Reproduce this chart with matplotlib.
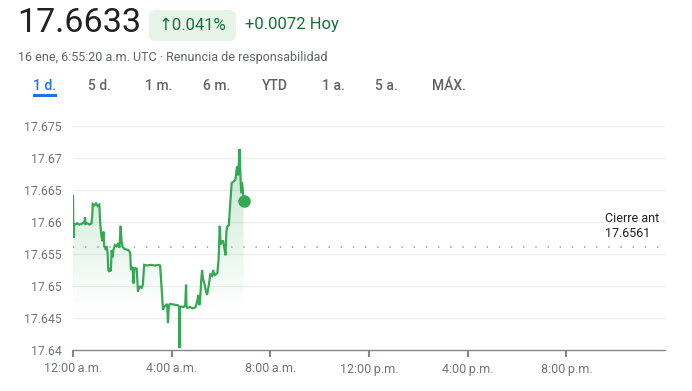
import numpy as np
import matplotlib
matplotlib.use("Agg")
import matplotlib.pyplot as plt
from matplotlib.colors import LinearSegmentedColormap
from matplotlib.patches import FancyBboxPatch

plt.rcParams['font.family'] = ['Roboto', 'DejaVu Sans']

# quote header
price = "17.6633"
pct_change = "\u21910.041%"
abs_change = "+0.0072 Hoy"
subtitle = "16 ene, 6:55:20 a.m. UTC \u00b7 Renuncia de responsabilidad"
ranges = ["1 d.", "5 d.", "1 m.", "6 m.", "YTD", "1 a.", "5 a.", "M\u00c1X."]
prev_close = 17.6561

# intraday series (minutes after midnight, price)
minutes = [0, 1, 2, 5, 10, 15, 20, 25, 28, 29, 31, 35, 40, 45, 47, 48, 52, 56, 60, 64,
           66, 68, 70, 72, 74, 76, 78, 80, 82, 84, 86, 88, 90, 92, 94, 97, 98, 102, 106, 110,
           113, 116, 118, 121, 125, 130, 135, 139, 141, 143, 145, 147, 149, 151, 155, 158, 160, 163, 167, 170,
           173, 180, 190, 200, 208, 212, 215, 219, 222, 226, 229, 231, 233, 236, 245, 255, 258, 259, 260, 263,
           269, 273, 275, 276, 278, 285, 292, 298, 302, 305, 307, 309, 312, 314, 316, 320, 324, 326, 330, 334,
           338, 341, 344, 347, 351, 354, 357, 359, 361, 365, 368, 371, 373, 375, 379, 383, 386, 390, 395, 399,
           402, 405, 407, 409, 411, 413, 415]
prices = [17.6641, 17.6575, 17.6597, 17.6596, 17.6598, 17.6596, 17.6597, 17.6599, 17.6597, 17.6607,
          17.6597, 17.6598, 17.6596, 17.6598, 17.6612, 17.6628, 17.6626, 17.6629, 17.6625, 17.6627,
          17.6600, 17.6585, 17.6575, 17.6570, 17.6585, 17.6562, 17.6560, 17.6556, 17.6562, 17.6553,
          17.6525, 17.6522, 17.6528, 17.6523, 17.6556, 17.6545, 17.6556, 17.6564, 17.6562, 17.6567,
          17.6560, 17.6594, 17.6570, 17.6561, 17.6558, 17.6557, 17.6556, 17.6552, 17.6525, 17.6528,
          17.6530, 17.6504, 17.6526, 17.6528, 17.6527, 17.6491, 17.6496, 17.6499, 17.6497, 17.6502,
          17.6533, 17.6532, 17.6533, 17.6532, 17.6533, 17.6532, 17.6502, 17.6463, 17.6468, 17.6470,
          17.6472, 17.6442, 17.6468, 17.6472, 17.6471, 17.6470, 17.6468, 17.6403, 17.6466, 17.6468,
          17.6467, 17.6470, 17.6502, 17.6468, 17.6466, 17.6467, 17.6465, 17.6467, 17.6476, 17.6486,
          17.6470, 17.6476, 17.6510, 17.6525, 17.6512, 17.6503, 17.6490, 17.6486, 17.6500, 17.6518,
          17.6516, 17.6525, 17.6517, 17.6518, 17.6520, 17.6540, 17.6594, 17.6565, 17.6570, 17.6570,
          17.6560, 17.6548, 17.6585, 17.6593, 17.6595, 17.6634, 17.6661, 17.6663, 17.6666, 17.6687,
          17.6673, 17.6714, 17.6679, 17.6645, 17.6662, 17.6650, 17.6633]

yticks = [17.64, 17.645, 17.65, 17.655, 17.66, 17.665, 17.67, 17.675]
ytick_labels = ["17.64", "17.645", "17.65", "17.655", "17.66", "17.665", "17.67", "17.675"]
xticks = [0, 240, 480, 720, 960, 1200]
xtick_labels = ["12:00\u2009a.m.", "4:00\u2009a.m.", "8:00\u2009a.m.",
                "12:00\u2009p.m.", "4:00\u2009p.m.", "8:00\u2009p.m."]

GREEN = "#34a853"
DARK_GREEN = "#137333"
GRAY = "#5f6368"

fig = plt.figure(figsize=(6.92, 3.91), dpi=100)
W, H = 692, 391

def fx(px):
    return px / W

def fy(py):
    return 1 - py / H

# header
fig.text(fx(17), fy(23), price, fontsize=24.5, color="#202124", va="center", ha="left")
pill = FancyBboxPatch((fx(149), fy(41)), fx(87), 31 / H,
                      boxstyle="round,pad=0,rounding_size=0.012",
                      transform=fig.transFigure, facecolor="#e6f4ea", edgecolor="none")
fig.patches.append(pill)
fig.text(fx(193), fy(25), pct_change, fontsize=12, color=DARK_GREEN, va="center", ha="center")
fig.text(fx(245), fy(25), abs_change, fontsize=12, color=DARK_GREEN, va="center", ha="left")
fig.text(fx(18), fy(58), subtitle, fontsize=9, color=GRAY, va="center", ha="left")

tab_x = [33, 88, 145, 203, 262, 322, 375, 432]
for i, (lab, tx) in enumerate(zip(ranges, tab_x)):
    col = "#1a73e8" if i == 0 else GRAY
    fig.text(fx(tx), fy(86), lab, fontsize=10, color=col, va="center", ha="left", fontweight="medium")
fig.patches.append(plt.Rectangle((fx(33), fy(97)), fx(24), 2.5 / H, transform=fig.transFigure,
                                 facecolor="#1a73e8", edgecolor="none"))

# chart
ax = fig.add_axes([fx(73), fy(350), fx(665 - 73), (350 - 126) / H])
ax.set_xlim(0, 1440)
ax.set_ylim(17.64, 17.675)
for s in ["top", "right", "left"]:
    ax.spines[s].set_visible(False)
ax.spines["bottom"].set_color("#80868b")
ax.spines["bottom"].set_linewidth(1)

for yv in yticks[1:]:
    ax.axhline(yv, color="#ebedf0", lw=0.9, zorder=0)

ax.set_yticks(yticks)
ax.set_yticklabels(ytick_labels)
ax.tick_params(axis="y", length=0, pad=8, labelsize=8.8, labelcolor="#70757a")
ax.set_xticks(xticks)
ax.set_xticklabels(xtick_labels)
ax.tick_params(axis="x", length=5, width=1.5, color="#80868b", pad=4, labelsize=9, labelcolor="#70757a")

# gradient fill under line
base = 17.6463
poly = ax.fill_between(minutes, prices, base, color="none", lw=0)
cmap = LinearSegmentedColormap.from_list("fade", [(0.2, 0.66, 0.33, 0.0), (0.2, 0.66, 0.33, 0.28)])
grad = np.linspace(0, 1, 256).reshape(-1, 1)
img = ax.imshow(grad, cmap=cmap, aspect="auto", origin="lower",
                extent=[min(minutes), max(minutes), base, max(prices)], zorder=1)
img.set_clip_path(poly.get_paths()[0], transform=ax.transData)

ax.plot(minutes, prices, color=GREEN, lw=1.6, zorder=3, solid_joinstyle="miter")
ax.plot(minutes[-1], prices[-1], "o", color=GREEN, ms=8, zorder=4)

# previous close
ax.plot([0, 1425], [prev_close, prev_close], color="#9aa0a6", lw=1.2,
        linestyle=(0, (0.8, 6.5)), zorder=2)
ax.annotate("Cierre ant\n" + f"{prev_close}", xy=(1295, prev_close), xytext=(0, 5),
            textcoords="offset points", ha="left", va="bottom", fontsize=9,
            color="#202124", linespacing=1.25)

fig.savefig("out.png", dpi=100)
